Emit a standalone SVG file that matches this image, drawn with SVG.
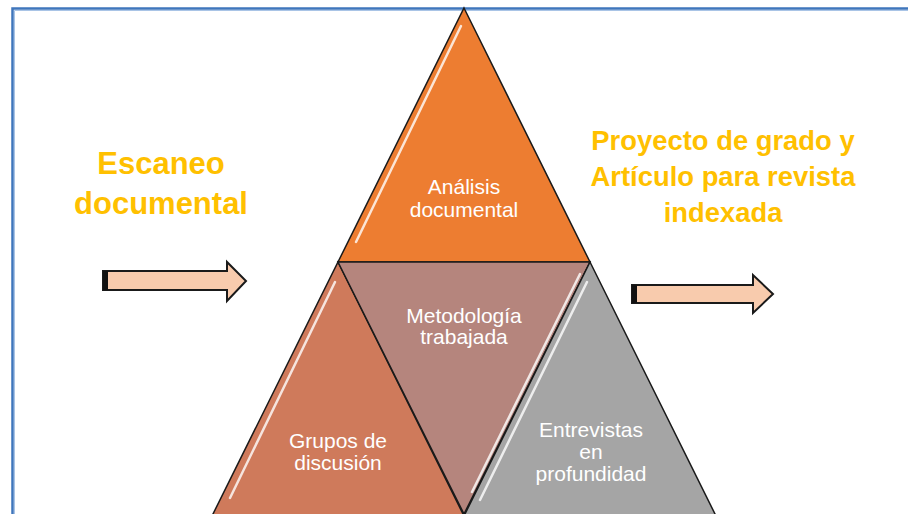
<svg xmlns="http://www.w3.org/2000/svg" width="908" height="514" viewBox="0 0 908 514">
  <defs>
    <style>
      .tri { stroke: #1a1a1a; stroke-width: 1.5; stroke-linejoin: miter; }
      .gloss { stroke: #ffffff; stroke-width: 2.5; stroke-linecap: round; fill: none; opacity: 0.8; }
      .lbl { font-family: "Liberation Sans", Arial, sans-serif; font-size: 21px; fill: #ffffff; text-anchor: middle; }
      .big { font-family: "Liberation Sans", Arial, sans-serif; font-weight: bold; fill: #FFC000; text-anchor: middle; }
      .arrow { fill: #F8CBAD; stroke: #1a1a1a; stroke-width: 2; stroke-linejoin: miter; }
    </style>
  </defs>
  <rect x="0" y="0" width="908" height="514" fill="#ffffff"/>
  <!-- frame -->
  <path d="M12.5 520 L12.5 8.5 L915 8.5" fill="none" stroke="#3F76BC" stroke-width="2.5"/>
  <path d="M14.5 520 L14.5 10.5 L915 10.5" fill="none" stroke="#A9C4E6" stroke-width="1"/>

  <g id="analisis-documental">
    <polygon class="tri" points="464,8 590,262 338,262" fill="#ED7D31"/>
    <line class="gloss" x1="461" y1="26" x2="356" y2="242"/>
    <text class="lbl" x="464" y="194">Análisis</text>
    <text class="lbl" x="464" y="217">documental</text>
  </g>

  <g id="grupos-de-discusion">
    <polygon class="tri" points="338,262 464,516 212,516" fill="#CF7A5B"/>
    <line class="gloss" x1="335" y1="282" x2="230" y2="498"/>
    <text class="lbl" x="338" y="448">Grupos de</text>
    <text class="lbl" x="338" y="470">discusión</text>
  </g>

  <g id="metodologia-trabajada">
    <polygon class="tri" points="338,262 590,262 464,514" fill="#B5857D"/>
    <line class="gloss" x1="580" y1="274" x2="472" y2="492"/>
    <text class="lbl" x="464" y="323">Metodología</text>
    <text class="lbl" x="464" y="344">trabajada</text>
  </g>

  <g id="entrevistas-en-profundidad">
    <polygon class="tri" points="590,262 716,516 464,516" fill="#A5A5A5"/>
    <line class="gloss" x1="587" y1="282" x2="480" y2="500"/>
    <text class="lbl" x="591" y="437">Entrevistas</text>
    <text class="lbl" x="591" y="459">en</text>
    <text class="lbl" x="591" y="481">profundidad</text>
  </g>

  <g id="escaneo-documental">
    <text class="big" x="161" y="174" font-size="31">Escaneo</text>
    <text class="big" x="161" y="214" font-size="31">documental</text>
  </g>

  <g id="proyecto-de-grado">
    <text class="big" x="723" y="150" font-size="27.4">Proyecto de grado y</text>
    <text class="big" x="723" y="186" font-size="27.4">Artículo para revista</text>
    <text class="big" x="723" y="222" font-size="27.4">indexada</text>
  </g>

  <g id="connectors">
    <g id="arrow-left">
      <polygon class="arrow" points="103,271 227,271 227,262 246,281 227,301 227,290 103,290"/>
      <rect x="103" y="271" width="5" height="19" fill="#111111"/>
    </g>
    <g id="arrow-right">
      <polygon class="arrow" points="632,285 753,285 753,275 773,294 753,313 753,303 632,303"/>
      <rect x="632" y="285" width="5" height="18" fill="#111111"/>
    </g>
  </g>
</svg>
